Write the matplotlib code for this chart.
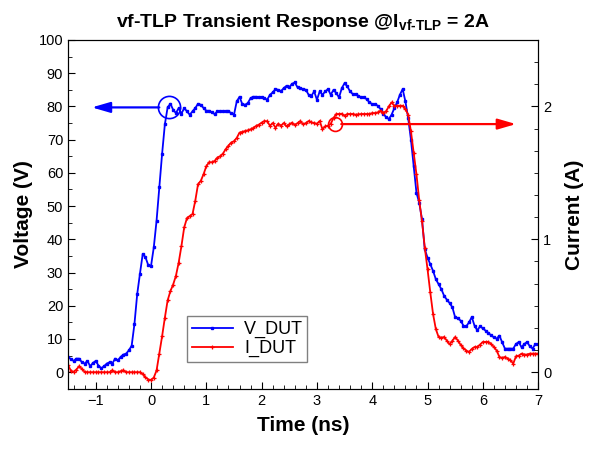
import numpy as np
import matplotlib.pyplot as plt
from matplotlib.ticker import MultipleLocator, AutoMinorLocator

plt.rcParams['font.family'] = ['Liberation Sans', 'DejaVu Sans']
plt.rcParams['mathtext.fontset'] = 'custom'
plt.rcParams['mathtext.bf'] = 'Liberation Sans:bold'
plt.rcParams['mathtext.rm'] = 'Liberation Sans:bold'
plt.rcParams['mathtext.default'] = 'bf'

# time base of the scope trace, ns (0.05 ns per sample)
tiempo = np.linspace(-1.5, 7.0, 171)

# V_DUT, volts (one row = 0.5 ns)
v_dut = [
    4.5, 4.0, 3.4, 4.1, 4.1, 3.0, 2.6, 3.4, 1.8, 2.8,
    3.4, 2.0, 1.2, 1.8, 2.6, 3.0, 2.6, 4.1, 3.6, 4.6,
    5.3, 5.6, 6.6, 8.0, 14.5, 23.5, 29.7, 35.6, 34.6, 32.2,
    32.0, 37.6, 45.6, 55.6, 65.7, 74.6, 79.7, 80.8, 79.0, 78.0,
    79.5, 77.8, 79.5, 78.5, 77.5, 78.5, 79.5, 80.8, 80.5, 79.5,
    78.7, 78.7, 78.2, 77.7, 78.5, 78.5, 78.5, 78.5, 78.5, 78.0,
    77.5, 81.5, 82.9, 80.7, 80.5, 81.0, 82.5, 82.9, 82.9, 82.8,
    82.8, 82.5, 82.0, 83.5, 84.2, 85.2, 85.0, 84.6, 85.5, 86.2,
    85.8, 86.8, 87.2, 85.7, 85.5, 85.2, 85.0, 83.5, 83.2, 84.5,
    82.0, 84.5, 83.5, 84.5, 85.2, 83.5, 85.0, 84.0, 82.7, 85.5,
    87.0, 86.0, 84.5, 83.7, 83.7, 83.2, 82.7, 82.7, 82.2, 81.2,
    80.7, 80.7, 80.2, 79.2, 77.8, 76.8, 76.2, 77.5, 79.5, 81.2,
    83.5, 85.2, 81.5, 76.5, 70.0, 62.0, 54.0, 51.0, 46.0, 37.0,
    34.5, 32.5, 30.5, 28.0, 26.5, 25.0, 23.0, 21.8, 20.8, 19.5,
    16.5, 16.2, 15.5, 14.0, 13.8, 15.0, 16.6, 14.0, 12.6, 13.8,
    13.2, 12.5, 11.8, 11.1, 10.5, 10.1, 11.0, 9.0, 7.1, 7.1,
    7.1, 7.1, 8.5, 9.1, 7.5, 8.5, 9.1, 7.8, 7.1, 8.5,
    8.5,
]

# I_DUT, amps
i_dut = [
    0.053, 0.012, 0.003, 0.020, 0.045, 0.025, 0.003, 0.0, 0.0, 0.0,
    0.0, 0.0, 0.0, 0.0, 0.0, 0.0, 0.015, 0.0, 0.0, 0.008,
    0.015, 0.0, 0.0, 0.0, 0.0, 0.0, 0.0, -0.015, -0.038, -0.055,
    -0.058, -0.040, 0.013, 0.14, 0.27, 0.41, 0.54, 0.61, 0.66, 0.725,
    0.825, 0.95, 1.09, 1.16, 1.175, 1.19, 1.29, 1.415, 1.44, 1.49,
    1.55, 1.58, 1.58, 1.59, 1.615, 1.625, 1.645, 1.678, 1.705, 1.728,
    1.738, 1.763, 1.803, 1.808, 1.815, 1.82, 1.828, 1.838, 1.853, 1.863,
    1.878, 1.89, 1.888, 1.855, 1.875, 1.84, 1.87, 1.855, 1.875, 1.85,
    1.865, 1.878, 1.86, 1.875, 1.89, 1.865, 1.875, 1.89, 1.88, 1.875,
    1.87, 1.89, 1.828, 1.85, 1.855, 1.87, 1.913, 1.943, 1.943, 1.945,
    1.93, 1.943, 1.943, 1.943, 1.938, 1.94, 1.943, 1.943, 1.943, 1.943,
    1.95, 1.95, 1.955, 1.968, 1.95, 1.963, 2.0, 2.03, 2.005, 2.005,
    2.005, 2.005, 1.98, 1.938, 1.813, 1.65, 1.488, 1.293, 1.138, 0.938,
    0.775, 0.60, 0.438, 0.325, 0.265, 0.26, 0.265, 0.238, 0.21, 0.238,
    0.265, 0.238, 0.205, 0.18, 0.163, 0.153, 0.175, 0.19, 0.19, 0.208,
    0.228, 0.228, 0.228, 0.213, 0.19, 0.163, 0.115, 0.108, 0.115, 0.103,
    0.09, 0.065, 0.12, 0.125, 0.14, 0.133, 0.133, 0.14, 0.14, 0.14,
    0.14,
]

# marked points (circle + arrow to the axis they belong to)
punto_v = (0.33, 79.7)
flecha_v = -1.07
punto_i = (3.32, 1.867)
flecha_i = 6.6

fig = plt.figure(figsize=(5.92, 4.49), dpi=100)
ax = fig.add_axes([0.115, 0.134, 0.794, 0.777])
ax2 = ax.twinx()

l1, = ax.plot(tiempo, v_dut, color='#0000ff', lw=1.3, marker='s', ms=2.0,
              mec='#0000ff', label='V_DUT')
l2, = ax2.plot(tiempo, i_dut, color='#ff0000', lw=1.3, marker='+', ms=3.2,
               mew=0.9, label='I_DUT')

# circle and arrow for voltage
ax.plot(punto_v[0], punto_v[1], marker='o', ms=16, mfc='none', mec='#0000ff', mew=1.2)
ax.annotate('', xy=(flecha_v, punto_v[1]), xytext=(punto_v[0] - 0.18, punto_v[1]),
            arrowprops=dict(arrowstyle='-|>,head_length=1.1,head_width=0.32',
                            color='#0000ff', lw=1.6, shrinkA=0, shrinkB=0))
# circle and arrow for current
ax2.plot(punto_i[0], punto_i[1], marker='o', ms=10, mfc='none', mec='#ff0000', mew=1.2)
ax2.annotate('', xy=(flecha_i, punto_i[1]), xytext=(punto_i[0] + 0.12, punto_i[1]),
             arrowprops=dict(arrowstyle='-|>,head_length=1.1,head_width=0.32',
                             color='#ff0000', lw=1.6, shrinkA=0, shrinkB=0))

ax.set_xlim(-1.5, 7)
ax.set_ylim(-5, 100)
ax2.set_ylim(-5 / 40, 100 / 40)

ax.xaxis.set_major_locator(MultipleLocator(1))
ax.xaxis.set_minor_locator(MultipleLocator(0.2))
ax.yaxis.set_major_locator(MultipleLocator(10))
ax.yaxis.set_minor_locator(MultipleLocator(5))
ax2.yaxis.set_major_locator(MultipleLocator(1))
ax2.yaxis.set_minor_locator(AutoMinorLocator(6))

ax.tick_params(which='both', direction='in', labelsize=10.5, top=False, right=False)
ax.tick_params(which='major', length=5)
ax.tick_params(which='minor', length=3)
ax2.tick_params(which='both', direction='in', labelsize=10.5)
ax2.tick_params(which='major', length=5)
ax2.tick_params(which='minor', length=3)

ax.set_xlabel('Time (ns)', fontsize=15, fontweight='bold', labelpad=6)
ax.set_ylabel('Voltage (V)', fontsize=15, fontweight='bold', labelpad=4)
ax2.set_ylabel('Current (A)', fontsize=15, fontweight='bold', labelpad=10)
ax.set_title(r'vf-TLP Transient Response @I$_{vf\text{-}TLP}$ = 2A',
             fontsize=14, fontweight='bold', pad=9)

leg = ax.legend([l1, l2], ['V_DUT', 'I_DUT'], loc='lower left',
                bbox_to_anchor=(0.253, 0.077), borderaxespad=0, fontsize=13,
                fancybox=False, edgecolor='#808080', framealpha=1,
                handlelength=2.3, handletextpad=0.6, borderpad=0.25,
                labelspacing=0.12)
leg.get_frame().set_linewidth(1.0)

plt.savefig('out.png', dpi=100)
